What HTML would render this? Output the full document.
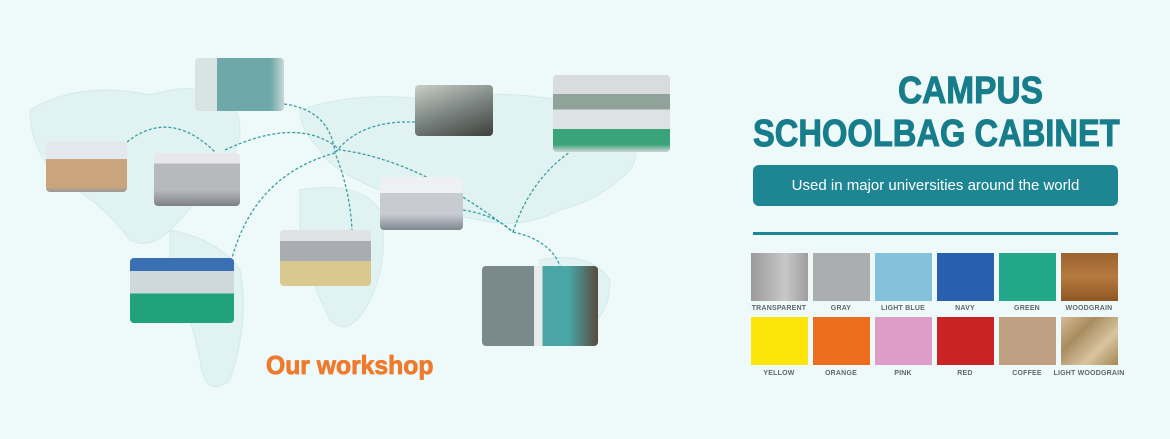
<!DOCTYPE html>
<html><head><meta charset="utf-8"><style>
body{margin:0;width:1170px;height:439px;overflow:hidden;background:#eef9f9;font-family:"Liberation Sans",sans-serif;position:relative}
.p{position:absolute;border-radius:4px;overflow:hidden}
.sw{position:absolute;width:57px;height:48px}
.lb{position:absolute;width:70px;text-align:center;font-size:7px;color:#666;font-weight:bold;letter-spacing:0.2px}
.t{position:absolute;color:#187d8a;font-weight:bold;white-space:nowrap;transform-origin:0 0;-webkit-text-stroke:1px #187d8a}
</style></head><body>
<svg width="1170" height="439" style="position:absolute;left:0;top:0">
<g fill="#e1f2f2" stroke="#d3ebeb" stroke-width="1">
<path d="M30 110 Q80 80 150 95 Q200 80 230 100 Q250 130 230 160 Q200 200 170 230 Q150 250 130 240 Q100 200 60 180 Q30 150 30 110Z"/>
<path d="M170 230 Q220 240 240 270 Q250 320 230 380 Q205 400 200 360 Q190 310 170 270Z"/>
<path d="M300 110 Q360 90 430 100 Q520 85 600 110 Q650 140 630 170 Q600 200 560 210 Q520 230 480 220 Q420 210 380 190 Q330 170 320 150 Q300 130 300 110Z"/>
<path d="M300 190 Q360 180 380 210 Q390 260 370 300 Q350 340 330 320 Q310 280 300 240Z"/>
<path d="M540 260 Q590 250 610 280 Q610 320 580 330 Q550 320 540 290Z"/>
</g>
<g fill="none" stroke="#3a9fa3" stroke-width="1.3" stroke-dasharray="3,2">
<path d="M127 142 Q170 108 215 152"/>
<path d="M225 150 Q300 115 340 150 Q420 160 513 232"/>
<path d="M284 104 Q330 110 335 153 Q350 190 352 230"/>
<path d="M415 122 Q360 120 335 153"/>
<path d="M335 153 Q255 175 232 258"/>
<path d="M463 210 Q495 215 513 232"/>
<path d="M513 232 Q530 180 570 152"/>
<path d="M513 232 Q550 240 560 266"/>
</g>
</svg>
<div class="p" style="left:195px;top:58px;width:89px;height:53px;background:linear-gradient(90deg,#d8e4e4 0 25%,#6fa8a8 25% 85%,#c9d7d6)"></div>
<div class="p" style="left:415px;top:85px;width:78px;height:51px;background:linear-gradient(160deg,#c9cfc9,#7c8582 50%,#3c3f3a)"></div>
<div class="p" style="left:553px;top:75px;width:117px;height:77px;background:linear-gradient(180deg,#d9dcdc 0 25%,#8fa39a 25% 45%,#dde2e4 45% 70%,#3aa37a 70% 90%,#cfd6d6)"></div>
<div class="p" style="left:46px;top:141px;width:81px;height:51px;background:linear-gradient(180deg,#e3e8ec 0 35%,#c9a47c 35% 90%,#9a9a9a)"></div>
<div class="p" style="left:154px;top:153px;width:86px;height:53px;background:linear-gradient(180deg,#e8e8ea 0 20%,#b8b9bd 20% 70%,#7d8187)"></div>
<div class="p" style="left:380px;top:177px;width:83px;height:53px;background:linear-gradient(180deg,#eef0f2 0 30%,#c8ccd2 30% 70%,#7e868e)"></div>
<div class="p" style="left:280px;top:230px;width:91px;height:56px;background:linear-gradient(180deg,#e0e2e4 0 20%,#a9acb0 20% 55%,#d9c98e 55%)"></div>
<div class="p" style="left:130px;top:258px;width:104px;height:65px;background:linear-gradient(180deg,#3b6fb3 0 20%,#cfd8dd 20% 55%,#21a27a 55%)"></div>
<div class="p" style="left:482px;top:266px;width:116px;height:80px;background:linear-gradient(90deg,#7a8a8c 0 45%,#e8eaeb 45% 52%,#49a5a6 52% 75%,#5a4a3e)"></div>
<div class="t" style="left:266px;top:350px;font-size:26px;color:#ef7a2d;-webkit-text-stroke:0.8px #ef7a2d;transform:scaleX(0.95)">Our workshop</div>

<div class="t" style="left:898px;top:70px;font-size:38px;transform:scaleX(0.88)">CAMPUS</div>
<div class="t" style="left:753px;top:113px;font-size:38px;transform:scaleX(0.86)">SCHOOLBAG CABINET</div>
<div style="position:absolute;left:753px;top:165px;width:365px;height:41px;background:#1e8593;border-radius:6px;color:#fff;font-size:15px;line-height:41px;text-align:center">Used in major universities around the world</div>
<div style="position:absolute;left:753px;top:232px;width:365px;height:3px;background:#1e8593"></div>

<div class="sw" style="left:751px;top:253px;background:linear-gradient(90deg,#9c9a9a,#c8c8c8 60%,#9e9e9e)"></div>
<div class="sw" style="left:813px;top:253px;background:#abadae"></div>
<div class="sw" style="left:875px;top:253px;background:#84c2db"></div>
<div class="sw" style="left:937px;top:253px;background:#2860ad"></div>
<div class="sw" style="left:999px;top:253px;background:#20a888"></div>
<div class="sw" style="left:1061px;top:253px;background:linear-gradient(180deg,#9c6230,#b57a3e,#8f5726)"></div>
<div class="sw" style="left:751px;top:317px;background:#fde40a"></div>
<div class="sw" style="left:813px;top:317px;background:#ec6d1e"></div>
<div class="sw" style="left:875px;top:317px;background:#de9cc8"></div>
<div class="sw" style="left:937px;top:317px;background:#c92325"></div>
<div class="sw" style="left:999px;top:317px;background:#c0a083"></div>
<div class="sw" style="left:1061px;top:317px;background:linear-gradient(135deg,#d3bb92,#a88c5f,#d8c4a0,#a48656)"></div>

<div class="lb" style="left:744px;top:305px">TRANSPARENT</div>
<div class="lb" style="left:806px;top:305px">GRAY</div>
<div class="lb" style="left:868px;top:305px">LIGHT BLUE</div>
<div class="lb" style="left:930px;top:305px">NAVY</div>
<div class="lb" style="left:992px;top:305px">GREEN</div>
<div class="lb" style="left:1054px;top:305px">WOODGRAIN</div>
<div class="lb" style="left:744px;top:370px">YELLOW</div>
<div class="lb" style="left:806px;top:370px">ORANGE</div>
<div class="lb" style="left:868px;top:370px">PINK</div>
<div class="lb" style="left:930px;top:370px">RED</div>
<div class="lb" style="left:992px;top:370px">COFFEE</div>
<div class="lb" style="left:1049px;top:370px;width:80px">LIGHT WOODGRAIN</div>
</body></html>
